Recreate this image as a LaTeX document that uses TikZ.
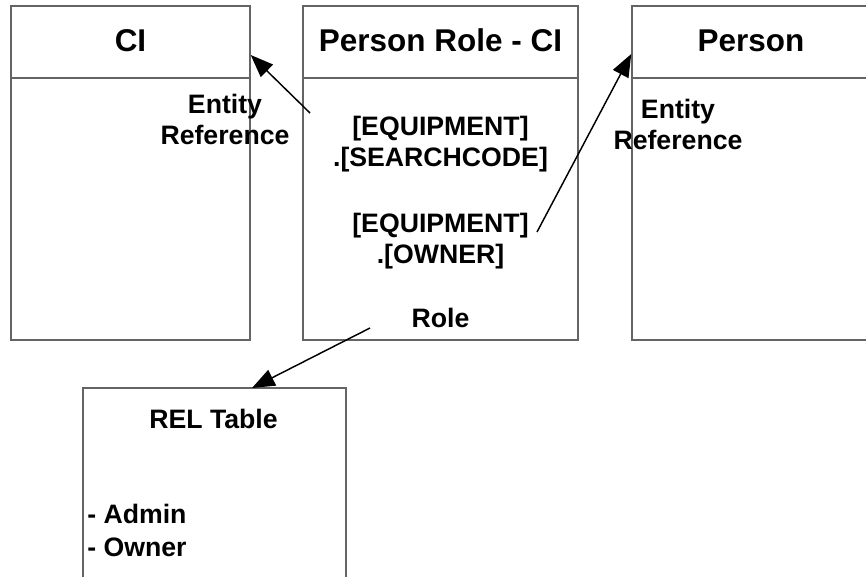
\documentclass[tikz,border=0pt]{standalone}
\usepackage{fontspec}
\setmainfont{Liberation Sans}
\usetikzlibrary{arrows.meta}

\definecolor{boxgray}{RGB}{100,100,100}
\tikzset{
  tablebox/.style={draw=boxgray, line width=1.1pt, inner sep=0pt},
  titletext/.style={font=\bfseries\fontsize{23.6}{28}\selectfont, inner sep=0.75pt, anchor=base},
  bodytext/.style={font=\bfseries\fontsize{20}{23.25}\selectfont, inner sep=0.75pt, anchor=base, align=center},
  refarrow/.style={draw=black, line width=1.1pt, -{Triangle[length=17pt,width=13pt]}}
}

\begin{document}
\begin{tikzpicture}[x=0.75pt,y=0.75pt,yscale=-1,xscale=1]
\useasboundingbox (0,0) rectangle (866,577);
\clip (0,0) rectangle (866,577);

%Tables
\node[tablebox, minimum width=179.25pt, minimum height=250.5pt] (ci) at (130.5,173) {};
\node[tablebox, minimum width=206.25pt, minimum height=250.5pt] (prci) at (440.5,173) {};
\node[tablebox, minimum width=201pt, minimum height=250.5pt] (person) at (766,173) {};
\node[tablebox, minimum width=197.25pt, minimum height=174pt] (rel) at (214.5,504) {};
%Header lines
\draw[boxgray, line width=1.1pt] (ci.west |- 0,78) -- (ci.east |- 0,78);
\draw[boxgray, line width=1.1pt] (prci.west |- 0,78) -- (prci.east |- 0,78);
\draw[boxgray, line width=1.1pt] (person.west |- 0,78) -- (person.east |- 0,78);

% Text Node
\node[titletext] (cititle) at (130.5,52) {CI};
% Text Node
\node[titletext] (prcititle) at (440.5,52) {Person Role - CI};
% Text Node
\node[titletext] (persontitle) at (751,52) {Person};
% Text Node (base = last line)
\node[bodytext] (ciref) at (225,145) {Entity\\Reference};
% Text Node
\node[bodytext] (personref) at (678,150) {Entity\\Reference};
% Text Node
\node[bodytext] (searchcode) at (440.5,167) {[EQUIPMENT]\\.[SEARCHCODE]};
% Text Node
\node[bodytext] (owner) at (440.5,263) {[EQUIPMENT]\\.[OWNER]};
% Text Node
\node[bodytext] (role) at (440.5,327) {Role};
% Text Node
\node[bodytext] (reltitle) at (213.5,428) {REL Table};
% Text Node
\node[bodytext, align=left, anchor=base west, font=\bfseries\fontsize{20}{24.75}\selectfont] (relvalues) at (86,556) {- Admin\\- Owner};

%Arrows
\coordinate (searchtail) at (310,113);
\coordinate (ownertail) at (537,232);
\coordinate (roletail) at (370,328);
\draw[refarrow] (searchtail) -- (ci.east |- 0,55);
\draw[refarrow] (ownertail) -- (person.west |- 0,54);
\draw[refarrow] (roletail) -- (252,388) coordinate (reltop);

\end{tikzpicture}
\end{document}
